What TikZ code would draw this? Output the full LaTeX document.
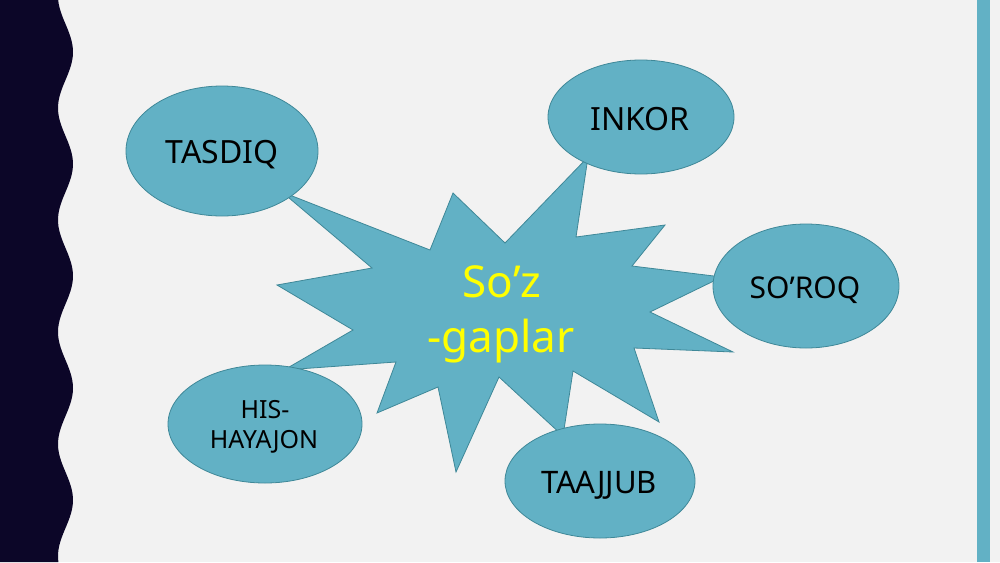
\documentclass[tikz,border=0pt]{standalone}
\usepackage{fontspec}
\setmainfont{Noto Sans}
\usetikzlibrary{shapes.geometric}
\definecolor{bgc}{HTML}{F2F2F2}
\definecolor{navy}{HTML}{0C0628}
\definecolor{tealf}{HTML}{62B1C5}
\definecolor{teald}{HTML}{3F8898}
\definecolor{yel}{HTML}{FFFF00}
\begin{document}
\begin{tikzpicture}[x=1pt,y=-1pt,
  bubble/.style={ellipse, draw=teald, line width=0.8pt, fill=tealf, inner sep=0pt},
  lab/.style={anchor=base, text=black, inner sep=0pt},
  burst/.style={draw=teald, line width=0.8pt, fill=tealf, line join=miter}]
\useasboundingbox (0,0) rectangle (1000,562);
\fill[bgc] (0,0) rectangle (1000,562);
% left wavy band
\fill[navy] (0,0) -- plot[domain=0:562, samples=140, smooth] ({65.5+7.5*cos(3.214*(\x-52))}, \x) -- (0,562) -- cycle;
% right bar
\fill[tealf] (977,0) rectangle (990,562);
% starburst
\path[burst] (282,192) -- (430,250) -- (453,193) -- (505,243) -- (588,157) -- (576,237)
  -- (665,225) -- (632,266) -- (722,277) -- (650,312) -- (733,352) -- (634,348)
  -- (659,422) -- (573,371) -- (563,436) -- (499,377) -- (456,472) -- (438,387)
  -- (377,413) -- (396,362) -- (284,370) -- (353,330) -- (277,285) -- (372,268) -- cycle;
\node[anchor=base, text=yel, inner sep=0pt, font=\fontsize{44}{55}\selectfont] (soz1) at (502,297) {So’z};
\node[anchor=base, text=yel, inner sep=0pt, font=\fontsize{44}{55}\selectfont] (soz2) at (501,352) {-gaplar};
% bubbles
\node[bubble, minimum width=192pt, minimum height=130pt] (tasdiq) at (222,151) {};
\node[bubble, minimum width=186pt, minimum height=114pt] (inkor) at (641,117) {};
\node[bubble, minimum width=186pt, minimum height=124pt] (soroq) at (806,286) {};
\node[bubble, minimum width=194pt, minimum height=118pt] (his) at (265,424) {};
\node[bubble, minimum width=190pt, minimum height=114pt] (taajjub) at (600,481) {};
% labels
\node[lab, font=\fontsize{32}{38}\selectfont] (tasdiqt) at (222,163) {TASDIQ};
\node[lab, font=\fontsize{32}{38}\selectfont] (inkort) at (640,130) {INKOR};
\node[lab, font=\fontsize{30}{36}\selectfont] (soroqt) at (805,298) {SO’ROQ};
\node[lab, font=\fontsize{25}{30}\selectfont] (hist1) at (265,418) {HIS-};
\node[lab, font=\fontsize{25}{30}\selectfont] (hist2) at (264,448) {HAYAJON};
\node[lab, font=\fontsize{31}{37}\selectfont] (taajjubt) at (599,493) {TAAJJUB};
\end{tikzpicture}
\end{document}
